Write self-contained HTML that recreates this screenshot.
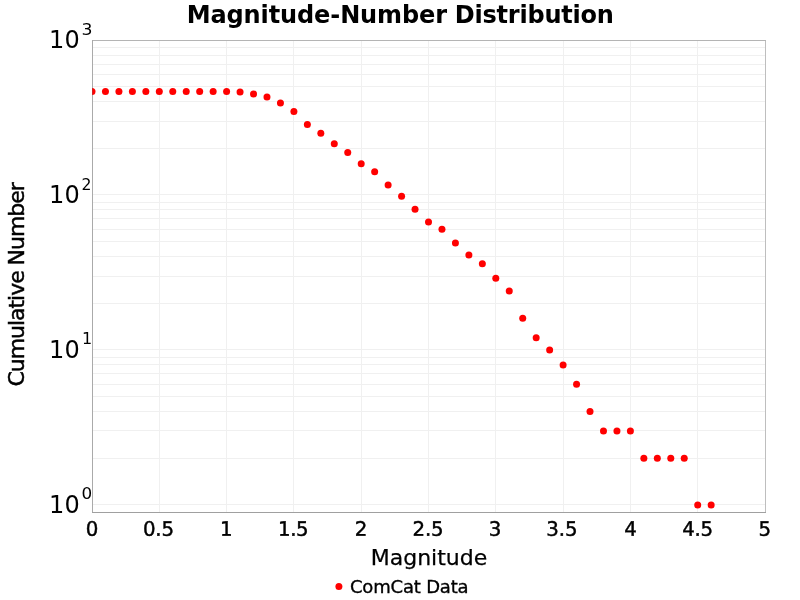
<!DOCTYPE html>
<html><head><meta charset="utf-8"><title>Magnitude-Number Distribution</title>
<style>html,body{margin:0;padding:0;background:#fff;overflow:hidden}svg{display:block}svg text{font-family:"DejaVu Sans","Liberation Sans",sans-serif;fill:#000}</style></head>
<body>
<svg width="800" height="600" viewBox="0 0 800 600" font-family="'DejaVu Sans', 'Liberation Sans', sans-serif">
<rect width="800" height="600" fill="#fff"/>
<path d="M93 504.5H765M93 458.5H765M93 430.5H765M93 411.5H765M93 396.5H765M93 384.5H765M93 373.5H765M93 364.5H765M93 357.5H765M93 349.5H765M93 303.5H765M93 276.5H765M93 256.5H765M93 241.5H765M93 229.5H765M93 218.5H765M93 209.5H765M93 202.5H765M93 194.5H765M93 148.5H765M93 121.5H765M93 101.5H765M93 86.5H765M93 74.5H765M93 64.5H765M93 55.5H765M93 47.5H765" stroke="#f0f0f0" stroke-width="1" fill="none"/>
<path d="M159.5 41V512M226.5 41V512M293.5 41V512M361.5 41V512M428.5 41V512M495.5 41V512M563.5 41V512M630.5 41V512M697.5 41V512" stroke="#f0f0f0" stroke-width="1" fill="none" shape-rendering="crispEdges"/>
<path d="M92.5 40V512" stroke="#aaaaaa" fill="none" shape-rendering="crispEdges"/>
<clipPath id="c"><rect x="92" y="40" width="674" height="473"/></clipPath>
<g clip-path="url(#c)" fill="#ff0000">
<circle cx="92.00" cy="91.39" r="3.5"/>
<circle cx="105.46" cy="91.39" r="3.5"/>
<circle cx="118.92" cy="91.39" r="3.5"/>
<circle cx="132.38" cy="91.39" r="3.5"/>
<circle cx="145.84" cy="91.39" r="3.5"/>
<circle cx="159.30" cy="91.39" r="3.5"/>
<circle cx="172.76" cy="91.39" r="3.5"/>
<circle cx="186.22" cy="91.39" r="3.5"/>
<circle cx="199.68" cy="91.39" r="3.5"/>
<circle cx="213.14" cy="91.39" r="3.5"/>
<circle cx="226.60" cy="91.53" r="3.5"/>
<circle cx="240.06" cy="91.97" r="3.5"/>
<circle cx="253.52" cy="94.04" r="3.5"/>
<circle cx="266.98" cy="96.96" r="3.5"/>
<circle cx="280.44" cy="103.03" r="3.5"/>
<circle cx="293.90" cy="111.43" r="3.5"/>
<circle cx="307.36" cy="124.48" r="3.5"/>
<circle cx="320.82" cy="133.30" r="3.5"/>
<circle cx="334.28" cy="143.77" r="3.5"/>
<circle cx="347.74" cy="152.48" r="3.5"/>
<circle cx="361.20" cy="163.76" r="3.5"/>
<circle cx="374.66" cy="171.85" r="3.5"/>
<circle cx="388.12" cy="184.98" r="3.5"/>
<circle cx="401.58" cy="196.33" r="3.5"/>
<circle cx="415.04" cy="209.15" r="3.5"/>
<circle cx="428.50" cy="221.92" r="3.5"/>
<circle cx="441.96" cy="229.35" r="3.5"/>
<circle cx="455.42" cy="242.98" r="3.5"/>
<circle cx="468.88" cy="254.98" r="3.5"/>
<circle cx="482.34" cy="263.73" r="3.5"/>
<circle cx="495.80" cy="278.28" r="3.5"/>
<circle cx="509.26" cy="291.02" r="3.5"/>
<circle cx="522.72" cy="318.31" r="3.5"/>
<circle cx="536.18" cy="337.67" r="3.5"/>
<circle cx="549.64" cy="349.94" r="3.5"/>
<circle cx="563.10" cy="364.96" r="3.5"/>
<circle cx="576.56" cy="384.32" r="3.5"/>
<circle cx="590.02" cy="411.61" r="3.5"/>
<circle cx="603.48" cy="430.97" r="3.5"/>
<circle cx="616.94" cy="430.97" r="3.5"/>
<circle cx="630.40" cy="430.97" r="3.5"/>
<circle cx="643.86" cy="458.26" r="3.5"/>
<circle cx="657.32" cy="458.26" r="3.5"/>
<circle cx="670.78" cy="458.26" r="3.5"/>
<circle cx="684.24" cy="458.26" r="3.5"/>
<circle cx="697.70" cy="504.91" r="3.5"/>
<circle cx="711.16" cy="504.91" r="3.5"/>
</g>
<path d="M93 40.5H766" stroke="#b4b4b4" fill="none" shape-rendering="crispEdges"/>
<path d="M765.5 41V513" stroke="#bebebe" fill="none" shape-rendering="crispEdges"/>
<path d="M92.5 88V95" stroke="#666" stroke-opacity="0.3" fill="none" shape-rendering="crispEdges"/>
<path d="M92 512.5H766" stroke="#a0a0a0" fill="none" shape-rendering="crispEdges"/>
<circle cx="338.9" cy="586.45" r="3.5" fill="#ff0000"/>
<text y="23" font-size="24" font-weight="bold"><tspan x="186.69" letter-spacing="-0.11">Magnitude-Number</tspan> <tspan x="454.74" letter-spacing="-0.212">Distribution</tspan></text>
<text x="370.82" y="564.8" font-size="22" stroke="#000" stroke-width="0.25" letter-spacing="-0.018">Magnitude</text>
<text transform="translate(24,386.51) rotate(-90)" font-size="22" stroke="#000" stroke-width="0.45" letter-spacing="-1.041">Cumulative Number</text>
<text x="349.94" y="593" font-size="18" stroke="#000" stroke-width="0.35" letter-spacing="-0.179">ComCat Data</text>
<text transform="translate(85.7,535.8) rotate(0.03)" font-size="19.8" stroke="#000" stroke-width="0.45">0</text>
<text transform="translate(142.92,535.8) rotate(0.03)" font-size="19.8" stroke="#000" stroke-width="0.45" letter-spacing="-0.18">0.5</text>
<text transform="translate(220.0,535.8) rotate(0.03)" font-size="19.8" stroke="#000" stroke-width="0.45">1</text>
<text transform="translate(277.91,535.8) rotate(0.03)" font-size="19.8" stroke="#000" stroke-width="0.45" letter-spacing="-0.35">1.5</text>
<text transform="translate(354.77,535.8) rotate(0.03)" font-size="19.8" stroke="#000" stroke-width="0.45">2</text>
<text transform="translate(412.43,535.8) rotate(0.03)" font-size="19.8" stroke="#000" stroke-width="0.45" letter-spacing="-0.111">2.5</text>
<text transform="translate(488.79,535.8) rotate(0.03)" font-size="19.8" stroke="#000" stroke-width="0.45">3</text>
<text transform="translate(546.35,535.8) rotate(0.03)" font-size="19.8" stroke="#000" stroke-width="0.45" letter-spacing="-0.072">3.5</text>
<text transform="translate(624.13,535.8) rotate(0.03)" font-size="19.8" stroke="#000" stroke-width="0.45">4</text>
<text transform="translate(682.17,535.8) rotate(0.03)" font-size="19.8" stroke="#000" stroke-width="0.45" letter-spacing="-0.304">4.5</text>
<text transform="translate(758.59,535.8) rotate(0.03)" font-size="19.8" stroke="#000" stroke-width="0.45">5</text>
<text x="48.96" y="48" font-size="24" letter-spacing="0.206">10</text>
<text transform="translate(81.56,34.7) scale(1.08,1)" font-size="16">3</text>
<text x="48.96" y="203" font-size="24" letter-spacing="0.206">10</text>
<text transform="translate(81.53,190.0) scale(0.98,1)" font-size="16">2</text>
<text x="48.96" y="358" font-size="24" letter-spacing="0.206">10</text>
<text transform="translate(82.01,344.1) scale(1.0,1)" font-size="16">1</text>
<text x="48.96" y="513" font-size="24" letter-spacing="0.206">10</text>
<text transform="translate(81.55,498.9) scale(1.05,1)" font-size="16">0</text>
</svg>
</body></html>
